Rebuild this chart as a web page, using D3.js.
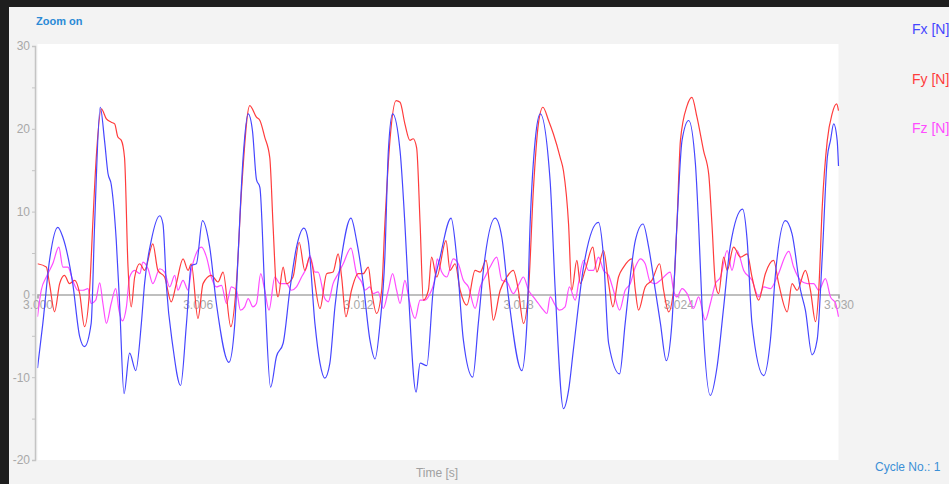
<!DOCTYPE html>
<html>
<head>
<meta charset="utf-8">
<script src="https://cdn.jsdelivr.net/npm/d3@7"></script>
<style>
  body { margin: 0; background: #1e1e1e; }
  svg { display: block; font-family: "Liberation Sans", Arial, sans-serif; }
</style>
</head>
<body>
<svg id="forceChart" width="949" height="484"></svg>
<script>
// time in ms after startTime, force in N
var startTime = 3.000;
var xTicks = [3.000, 3.006, 3.012, 3.018, 3.024, 3.030];
var yTicks = [-20, -15, -10, -5, 0, 5, 10, 15, 20, 25, 30];

var fxTime = [0, 0.2, 0.45, 0.76, 0.95, 1.32, 1.58, 1.76, 2.01, 2.14, 2.35, 2.51, 2.64, 2.76, 2.95, 3.08, 3.24, 3.45, 3.68, 3.89,
  4.01, 4.26, 4.58, 4.7, 4.83, 5.07, 5.36, 5.58, 5.76, 5.95, 6.18, 6.45, 6.7, 7.17, 7.39, 7.51, 7.7, 7.89, 8.05, 8.2,
  8.33, 8.51, 8.73, 8.95, 9.2, 9.45, 9.7, 9.98, 10.14, 10.39, 10.58, 10.76, 10.95, 11.14, 11.33, 11.74, 11.95, 12.2, 12.45, 12.64,
  12.83, 13.01, 13.14, 13.3, 13.58, 13.76, 13.89, 14.18, 14.33, 14.58, 14.82, 15.08, 15.49, 15.7, 15.95, 16.3, 16.51, 16.7, 17.14, 17.39,
  17.64, 18.14, 18.33, 18.45, 18.64, 18.83, 19.2, 19.39, 19.7, 19.89, 20.07, 20.45, 21.01, 21.2, 21.39, 21.8, 22.01, 22.2, 22.39, 22.68,
  22.89, 23.14, 23.33, 23.55, 23.76, 23.95, 24.14, 24.39, 24.64, 24.76, 24.89, 25.2, 25.45, 25.7, 25.95, 26.41, 26.58, 26.76, 27.2, 27.45,
  27.64, 28.01, 28.26, 28.58, 28.76, 29.01, 29.2, 29.39, 29.58, 29.7, 29.82, 29.95, 30];
var fxValue = [-8.9, -3.5, 4.1, 8.1, 6.9, 1.3, -5.1, -6.3, -3.5, 8.5, 22.6, 18.6, 14.6, 13.3, 6.5, -1.5, -12, -7.1, -9.2, -3.5,
  1.3, 6.5, 9.5, 8.5, 0.9, -6.3, -11, -3.5, 3.5, 3.7, 8.9, 5.7, -1.1, -8.2, -3.5, 4.5, 16.5, 21.8, 19.8, 13.9,
  12.9, 0.5, -11.2, -7.5, -5.9, 0.5, 5.7, 8, 6.5, -3.5, -8.3, -10.1, -8.3, -1.5, 3.3, 9.2, 6.5, 1.3, -5.5, -7.8,
  -3.5, 4.5, 17.3, 21.8, 17.3, 8.5, 0.5, -11.8, -8.3, -8.6, 0.5, 4.5, 9.2, 4.5, -5.5, -10, -3.5, 2.9, 9.2, 6.9,
  -0.3, -9.2, -3.5, 8.5, 18.6, 21.8, 13.7, 0.5, -13.8, -11.6, -6.7, 3.3, 8.7, 4.5, -5.9, -9.6, -3.5, 2.1, 6.5, 8.5,
  5.7, 0.5, -3.5, -8, -3.5, 8.5, 18.6, 21, 15.8, 8.5, -1.5, -12.2, -8.8, -1.5, 5.9, 10.3, 6.5, -3.5, -9.8, -5.5,
  2.5, 8.9, 7.3, 0.5, -1.9, -7.3, -5.5, 4.5, 16.5, 18.6, 20.6, 18.6, 15.5];

var fyTime = [0, 0.33, 0.45, 0.64, 0.83, 1.01, 1.2, 1.39, 1.58, 1.76, 1.95, 2.07, 2.2, 2.39, 2.58, 2.76, 2.89, 3.01, 3.14, 3.26,
  3.39, 3.51, 3.64, 3.83, 4.01, 4.32, 4.51, 4.76, 5.01, 5.2, 5.45, 5.64, 5.76, 6.01, 6.2, 6.51, 6.76, 6.95, 7.24, 7.45,
  7.64, 7.95, 8.2, 8.33, 8.51, 8.7, 8.82, 8.95, 9.01, 9.2, 9.33, 9.57, 9.8, 10.01, 10.2, 10.58, 10.83, 11.07, 11.26, 11.39,
  11.55, 11.76, 12.01, 12.2, 12.39, 12.51, 12.7, 12.89, 13.01, 13.2, 13.43, 13.58, 13.76, 13.95, 14.07, 14.2, 14.33, 14.45, 14.64, 14.76,
  14.95, 15.3, 15.45, 15.64, 15.83, 16.08, 16.39, 16.58, 16.8, 16.95, 17.07, 17.33, 17.58, 17.82, 18.01, 18.2, 18.39, 18.57, 18.76, 18.93,
  19.14, 19.32, 19.58, 19.7, 19.89, 20.01, 20.2, 20.33, 20.51, 20.8, 20.95, 21.2, 21.39, 21.55, 21.76, 21.95, 22.26, 22.39, 22.51, 22.76,
  23.01, 23.3, 23.45, 23.64, 23.82, 23.95, 24.08, 24.33, 24.51, 24.7, 24.95, 25.14, 25.26, 25.39, 25.51, 25.7, 25.83, 26.07, 26.33, 26.58,
  26.76, 27.01, 27.26, 27.57, 27.76, 28.08, 28.26, 28.45, 28.76, 28.95, 29.14, 29.26, 29.39, 29.58, 29.76, 29.93, 30];
var fyValue = [3.7, 3.3, 1.3, -2.1, 1.3, 2.3, 1.3, 1.7, 0.1, -3.9, 0.5, 8.5, 16.5, 22.4, 21.2, 20.8, 20.6, 19, 18.6, 16.5,
  3.3, -1.5, 2.1, 3.7, 2.9, 6.1, 2.9, 2.1, -0.9, 1.3, 4.3, 2.9, 3.7, -2.9, 1.3, 2.3, 1.5, 2.7, -3.9, 1.3,
  12.5, 22.8, 21.4, 21, 19, 16.5, 8.5, 0.5, -0.3, 3.3, 1.3, 2.1, 6.3, 2.9, 4.5, -1.7, 2.5, 2.7, 4.9, 2.1,
  -2.7, 0.5, 2.5, 2.5, 3.3, 0.5, -2.3, 0.5, 8.5, 18.6, 23.4, 23.2, 20.6, 18.6, 18.8, 17.7, 8.5, -0.7, 0.5, 4.5,
  2.1, 6.5, 2.9, 3.7, 0.5, -1.3, 2.9, 2.7, 4.1, 0.5, -3.1, 0.5, 2.1, 2.9, 0.5, -3.5, 0.5, 12.5, 20.6, 22.6,
  21, 19.4, 16.5, 14.9, 8.5, 0.5, 4.1, 1.3, 2.9, 5.7, 2.7, 5.3, 1.3, -1.5, 2.1, 3.3, 4.3, 0.5, -1.9, 0.9,
  1.7, 3.7, 0.5, -2.1, 0.5, 8.5, 18.6, 22.8, 23.8, 21.4, 17.3, 14.5, 8.5, 1.3, 0.1, 4.5, 2.9, 5.7, 4.5, 4.9,
  2.1, -0.7, 2.5, 4.1, 1.3, -2.1, 1.3, 0.5, 2.9, 0.5, -3.3, 0.5, 10.5, 18.6, 21.8, 23, 22.2];

var fzTime = [0, 0.14, 0.33, 0.57, 0.8, 0.95, 1.14, 1.32, 1.51, 1.7, 1.89, 2.01, 2.18, 2.33, 2.45, 2.58, 2.76, 2.93, 3.05, 3.18,
  3.33, 3.45, 3.64, 3.83, 3.95, 4.14, 4.32, 4.58, 4.76, 4.95, 5.14, 5.26, 5.45, 5.64, 5.76, 6.14, 6.33, 6.51, 6.7, 6.89,
  7.08, 7.26, 7.45, 7.6, 7.76, 7.89, 8.07, 8.2, 8.36, 8.51, 8.67, 8.89, 9.08, 9.33, 9.51, 9.7, 9.89, 10.08, 10.2, 10.39,
  10.51, 10.76, 10.89, 11.07, 11.26, 11.45, 11.74, 11.95, 12.14, 12.26, 12.45, 12.57, 12.76, 12.95, 13.14, 13.3, 13.45, 13.58, 13.76, 13.92,
  14.14, 14.33, 14.51, 14.7, 14.89, 14.97, 15.14, 15.33, 15.57, 15.76, 15.95, 16.14, 16.39, 16.58, 16.76, 16.95, 17.2, 17.39, 17.58, 17.82,
  18.01, 18.2, 18.39, 18.57, 18.76, 18.95, 19.08, 19.2, 19.39, 19.55, 19.76, 19.92, 20.14, 20.26, 20.45, 20.64, 20.82, 21.01, 21.2, 21.39,
  21.57, 21.8, 22.01, 22.2, 22.39, 22.58, 22.76, 22.95, 23.14, 23.33, 23.7, 23.82, 23.95, 24.14, 24.33, 24.57, 24.76, 25.01, 25.2, 25.39,
  25.58, 25.83, 26.01, 26.2, 26.45, 26.76, 27.01, 27.2, 27.45, 27.7, 28.14, 28.32, 28.58, 28.83, 29.07, 29.26, 29.51, 29.7, 29.89, 30];
var fzValue = [-2.7, 0.5, 2.1, 3.7, 5.7, 3.3, 3.3, 1.7, 0.5, 0.5, 0.7, -1.1, -0.7, 1.4, -1.1, -3.5, -1.1, 0.7, -1.9, -3.2,
  -1.5, 2.1, 2.9, 2.5, 3.9, 3.1, 1.3, 3.1, 2.7, 0.9, 2.3, 0.5, 1.7, 0.5, 2.9, 5.7, 4.5, 2.1, 0.9, 1.1,
  -1.1, 0.9, 0.5, -1.9, -1.5, -0.5, -1.5, -1.1, 2.5, 0.5, -1.9, 2.1, 1.3, 1.3, 0.5, 0.9, 2.1, 3.3, 4.7, 2.7,
  2.7, -0.5, -0.9, 1.3, 2.5, 3.7, 5.6, 2.5, 1.5, 0.5, 0.9, 0.1, 0.3, -1.7, 0.5, 2.5, 0.5, -1.1, 1.7, -0.7,
  -2.9, -0.7, -0.7, 0.1, 2.1, 4.3, 2.7, 2.1, 4.3, 3.7, 1.7, 0.9, -1.7, 0.9, 2.1, 3.3, 4.5, 1.7, 1.5, 0.1,
  1.1, 2.1, 0.5, -0.3, -1.1, -1.9, -2.3, -0.3, -1.3, -1.9, -1.5, 0.9, -0.7, 1.3, 4.1, 2.9, 2.9, 4.5, 2.9, 2.3,
  0.5, -1.9, 0.5, 1.3, 3.3, 4.3, 3.7, 1.5, 1.3, 1.7, 2.7, 0.5, -0.3, 0.7, 0.1, -1.7, -0.3, -3.1, -1.1, 1.3,
  2.1, 5.3, 2.9, 5.3, 2.9, 1.7, -0.3, 0.9, 0.7, 2.1, 5.2, 3.3, 1.7, 1.3, 1.3, 0.5, 1.9, -0.3, -1.1, -2.7];

var seriesNames = ["Fx [N]", "Fy [N]", "Fz [N]"];
var seriesColors = ["#4646ff", "#ff3c3c", "#ff4cff"];

var svg = d3.select("#forceChart");
var width = +svg.attr("width"), height = +svg.attr("height");
var plotLeft = 37.5, plotRight = 838.5, plotTop = 46, plotBottom = 460;

// frame: dark edge at top and left, light grey panel
svg.append("rect").attr("width", width).attr("height", height).attr("fill", "#1e1e1e");
svg.append("rect").attr("x", 9).attr("y", 7).attr("width", width - 9).attr("height", height - 7).attr("fill", "#f3f3f3");
svg.append("rect").attr("x", plotLeft).attr("y", plotTop - 2)
    .attr("width", plotRight - plotLeft).attr("height", plotBottom - plotTop + 2).attr("fill", "#ffffff");

var x = d3.scaleLinear().domain([3.000, 3.030]).range([plotLeft, plotRight]);
var y = d3.scaleLinear().domain([-20, 30]).range([plotBottom, plotTop]);

// y axis
var yAxis = svg.append("g")
    .attr("transform", "translate(35,0)")
    .call(d3.axisLeft(y).tickValues(yTicks).tickSize(3).tickPadding(2)
        .tickFormat(function (d) { return d % 10 === 0 ? d : ""; }));
yAxis.select(".domain").attr("stroke", "#c4c4c4").attr("stroke-width", 1.5);
yAxis.selectAll(".tick line").attr("stroke", "#c4c4c4");
yAxis.selectAll("text").attr("fill", "#a8a8a8").style("font-size", "12px");

// lines
svg.append("clipPath").attr("id", "plotClip")
    .append("rect").attr("x", plotLeft).attr("y", plotTop - 2)
    .attr("width", plotRight - plotLeft + 2).attr("height", plotBottom - plotTop + 2);

var seriesData = [
    fxTime.map(function (t, i) { return [startTime + t / 1000, fxValue[i]]; }),
    fyTime.map(function (t, i) { return [startTime + t / 1000, fyValue[i]]; }),
    fzTime.map(function (t, i) { return [startTime + t / 1000, fzValue[i]]; })
];

var line = d3.line()
    .x(function (d) { return x(d[0]); })
    .y(function (d) { return y(d[1]); })
    .curve(d3.curveMonotoneX);

// x axis on the zero line
var xAxis = svg.append("g")
    .attr("transform", "translate(0," + y(0) + ")")
    .call(d3.axisBottom(x).tickValues(xTicks).tickSize(4).tickPadding(2)
        .tickFormat(d3.format(".3f")));
xAxis.select(".domain").attr("stroke", "#aaaaaa").attr("stroke-width", 1.5);
xAxis.selectAll(".tick line").attr("stroke", "#aaaaaa");
xAxis.selectAll("text").attr("fill", "#a8a8a8").style("font-size", "12px");

svg.append("g").attr("clip-path", "url(#plotClip)")
    .selectAll("path")
    .data([2, 1, 0])
    .join("path")
    .attr("d", function (i) { return line(seriesData[i]); })
    .attr("fill", "none")
    .attr("stroke", function (i) { return seriesColors[i]; })
    .attr("stroke-width", 1.2);

// legend
svg.append("g").selectAll("text")
    .data(seriesNames)
    .join("text")
    .attr("x", 912)
    .attr("y", function (d, i) { return 34 + i * 49.5; })
    .attr("fill", function (d, i) { return seriesColors[i]; })
    .style("font-size", "14px")
    .text(function (d) { return d; });

// labels
svg.append("text").attr("x", 437).attr("y", 477).attr("text-anchor", "middle")
    .attr("fill", "#a0a0a0").style("font-size", "12px").text("Time [s]");
svg.append("text").attr("x", 875).attr("y", 471)
    .attr("fill", "#3b8fd6").style("font-size", "12px").text("Cycle No.: 1");
svg.append("text").attr("x", 36).attr("y", 25)
    .attr("fill", "#2a8ad6").style("font-size", "11px").style("font-weight", "bold").text("Zoom on");
</script>
</body>
</html>
